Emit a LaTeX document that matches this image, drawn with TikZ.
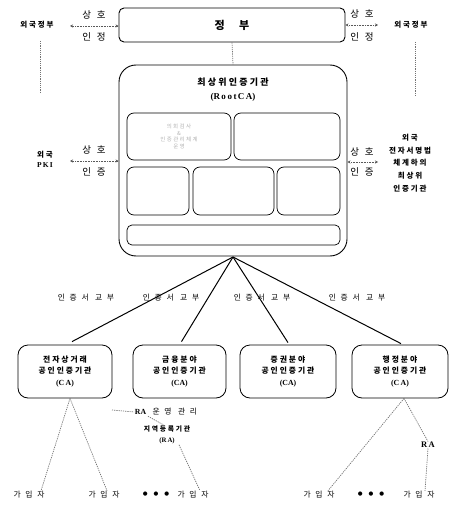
\documentclass[tikz,border=0pt]{standalone}
\usepackage{fontspec}
\setmainfont{Liberation Serif}
\newfontfamily\kr[LetterSpace=25]{Noto Sans CJK KR}
\newfontfamily\krw[LetterSpace=60]{Noto Sans CJK KR}
\newfontfamily\dv{DejaVu Sans}
\usetikzlibrary{arrows.meta}
\begin{document}
\begin{tikzpicture}[x=1pt,y=-1pt,
  box/.style={draw, line width=0.9pt, rounded corners=7pt, inner sep=0pt},
  inbox/.style={draw, line width=0.7pt, rounded corners=7pt, inner sep=0pt},
  cabox/.style={draw, line width=0.8pt, rounded corners=10pt, minimum height=53pt, inner sep=0pt, align=center, font=\kr\bfseries\fontsize{7.8}{11.5}\selectfont},
  lbl/.style={inner sep=0.5pt, align=center, font=\krw\fontsize{9.5}{11}\selectfont},
  blbl/.style={inner sep=0.5pt, align=center, font=\kr\bfseries\fontsize{7.5}{12.5}\selectfont},
  slbl/.style={inner sep=0.5pt, align=center, font=\krw\fontsize{7.8}{9}\selectfont},
  mutual/.style={densely dotted, black!65, line width=0.6pt, {Stealth[length=3pt,width=3pt]}-{Stealth[length=3pt,width=3pt]}},
  dotl/.style={dash pattern=on 1.2pt off 1pt, black!55, line width=0.7pt},
  fan/.style={line width=1pt},
  faint/.style={inner sep=0pt, align=center, text=gray!60, font=\kr\fontsize{5.5}{7.5}\selectfont}
]
\useasboundingbox (0,0) rectangle (462,505);

% Government
\node[box, rounded corners=5pt, minimum width=226pt, minimum height=34pt, font=\kr\bfseries\fontsize{11}{13}\selectfont] (gov) at (232,25) {정\hspace{1.3em}부};

% Root CA
\node[box, rounded corners=17pt, minimum width=228pt, minimum height=191pt] (root) at (233,160.5) {};
\node[inner sep=0pt, font=\kr\bfseries\fontsize{9}{11}\selectfont] (rtitle) at (233,82) {최상위인증기관};
\node[inner sep=0pt, font=\bfseries\fontsize{9}{11}\selectfont] (rsub) at (233,97) {(R\,o\,o\,t\,C\,A)};
\node[inbox, minimum width=104pt, minimum height=47pt] (in1) at (179,136.5) {};
\node[faint] at (179,136.5) {의회검사\\[-1pt]\&\\[-1pt]인증관리체계\\[-1pt]운영};
\node[inbox, minimum width=106pt, minimum height=47pt] (in2) at (287,136.5) {};
\node[inbox, minimum width=62pt, minimum height=48pt] (in3) at (158,191) {};
\node[inbox, minimum width=81pt, minimum height=48pt] (in4) at (233.5,191) {};
\node[inbox, minimum width=63pt, minimum height=48pt] (in5) at (308.5,191) {};
\node[inbox, rounded corners=5pt, minimum width=213pt, minimum height=20pt] (in6) at (233.5,235) {};

\draw[dotl] (gov.south) -- (root.north);

% Left top
\node[blbl] (fgl) at (37,25) {외국정부};
\node[lbl] (sl1) at (94,15) {상호};
\node[lbl] (sl2) at (94,37) {인정};
\coordinate (al1) at (70,26);
\draw[mutual] (al1) -- (gov.west |- al1);
\coordinate (vl0) at (40,41);
\coordinate (vl) at (40,92);
\draw[dotl] (vl0) -- (vl);

% Right top
\node[lbl] (sr1) at (362,14) {상호};
\node[lbl] (sr2) at (362,37) {인정};
\node[blbl] (fgr) at (411,25) {외국정부};
\coordinate (ar1) at (378,25);
\draw[mutual] (gov.east |- ar1) -- (ar1);
\coordinate (vr0) at (415,42);
\coordinate (vr) at (415,96);
\draw[dotl] (vr0) -- (vr);

% Left middle
\node[blbl, font=\bfseries\fontsize{7.5}{10}\selectfont] (pki) at (45,159) {{\kr 외국}\\P\,K\,I};
\node[lbl] (sl3) at (94,150) {상호};
\node[lbl] (sl4) at (94,172) {인증};
\coordinate (al2) at (70,161);
\draw[mutual] (al2) -- (root.west |- al2);

% Right middle
\node[lbl] (sr3) at (362,152) {상호};
\node[lbl] (sr4) at (362,172) {인증};
\coordinate (ar2) at (378,162);
\draw[mutual] (root.east |- ar2) -- (ar2);
\node[blbl, font=\kr\bfseries\fontsize{7.5}{12.6}\selectfont] (fpki) at (410,163) {외국\\전자서명법\\체계하의\\최상위\\인증기관};

% CA boxes
\node[cabox, minimum width=94pt] (ca1) at (65,371.5) {전자상거래\\공인인증기관\\{\rmfamily(C\,A)}};
\node[cabox, minimum width=93pt] (ca2) at (179.5,371.5) {금융분야\\공인인증기관\\{\rmfamily(CA)}};
\node[cabox, minimum width=96pt] (ca3) at (288,371.5) {증권분야\\공인인증기관\\{\rmfamily(CA)}};
\node[cabox, minimum width=96pt] (ca4) at (400,371.5) {행정분야\\공인인증기관\\{\rmfamily(C\,A)}};

\coordinate (apex) at (233,257);
\draw[fan] (apex) -- ([xshift=7pt,yshift=3pt]ca1.north);
\draw[fan] (apex) -- ([xshift=2pt,yshift=3pt]ca2.north);
\draw[fan] (apex) -- ([yshift=2pt]ca3.north);
\draw[fan] (apex) -- ([xshift=1pt,yshift=1pt]ca4.north);

\node[slbl] (g1) at (86,298) {인증서 교부};
\node[slbl] (g2) at (171,298) {인증서 교부};
\node[slbl] (g3) at (262,298) {인증서 교부};
\node[slbl] (g4) at (357,298) {인증서 교부};

% Left subtree
\node[slbl] (s1) at (29,495) {가입자};
\node[slbl] (s2) at (104,495) {가입자};
\node[inner sep=0pt, font=\dv\fontsize{5.5}{6}\selectfont] (d1) at (156,494) {●\hspace{6pt}●\hspace{6pt}●};
\node[slbl] (s3) at (193,495) {가입자};
\draw[dotl] ([xshift=5pt]ca1.south) -- ([xshift=12pt]s1.north);
\draw[dotl] ([xshift=5pt]ca1.south) -- ([xshift=3pt]s2.north);
\node[slbl] (ramg) at (166,412) {{\bfseries\rmfamily RA} 운영 관리};
\coordinate (ramgl) at (112,410);
\draw[dotl] (ramgl) -- (ramg.west);
\node[blbl, font=\kr\bfseries\fontsize{6.8}{11}\selectfont] (lra) at (167,435) {지역등록기관\\{\rmfamily(R\,A)}};
\draw[dotl] ([xshift=-18pt]ramg.south) -- ([xshift=-3pt]lra.north);
\draw[dotl] ([xshift=12pt]lra.south) -- ([xshift=7pt]s3.north);

% Right subtree
\node[slbl] (s4) at (319,495) {가입자};
\node[inner sep=0pt, font=\dv\fontsize{5.5}{6}\selectfont] (d2) at (371,494) {●\hspace{6pt}●\hspace{6pt}●};
\node[slbl] (s5) at (419,495) {가입자};
\node[inner sep=0.5pt, font=\bfseries\fontsize{8.5}{10}\selectfont] (rra) at (428,445) {R\,A};
\draw[dotl] ([xshift=4pt]ca4.south) -- ([xshift=9pt]s4.north);
\draw[dotl] ([xshift=4pt]ca4.south) -- (rra.north);
\draw[dotl] (rra.south) -- ([xshift=6pt]s5.north);
\end{tikzpicture}
\end{document}
